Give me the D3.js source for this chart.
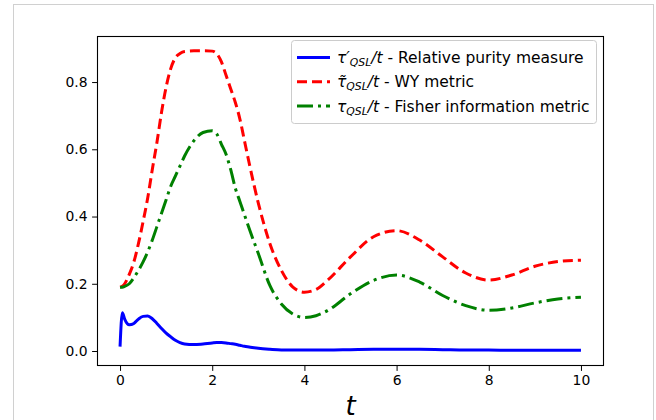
<!DOCTYPE html>
<html>
<head>
<meta charset="utf-8">
<script src="https://cdn.jsdelivr.net/npm/d3@7"></script>
<style>
  body { margin: 0; background: #fff; }
  text { font-family: "DejaVu Sans", sans-serif; }
</style>
</head>
<body>
<script>
var width = 656
var height = 420

// data
var tValues = [0, 0.05, 0.1, 0.2, 0.3, 0.4, 0.5, 0.6, 0.7, 0.8, 0.9, 1.0, 1.1, 1.2, 1.3, 1.4, 1.6, 1.8, 2.0,
  2.1, 2.2, 2.3, 2.4, 2.5, 2.6, 2.7, 2.8, 3.0, 3.25, 3.5, 3.75, 4.0, 4.25, 4.5, 5.0, 5.5, 6.0,
  6.5, 7.0, 7.5, 8.0, 8.5, 9.0, 9.5, 10.0]

var purity = [0.013, 0.114, 0.095, 0.078, 0.082, 0.095, 0.103, 0.104, 0.096, 0.082, 0.067, 0.053, 0.042, 0.032, 0.025, 0.021, 0.019, 0.021, 0.024,
  0.025, 0.025, 0.024, 0.022, 0.020, 0.017, 0.014, 0.012, 0.008, 0.005, 0.003, 0.003, 0.003, 0.003, 0.003, 0.004, 0.005, 0.005,
  0.005, 0.004, 0.003, 0.003, 0.002, 0.002, 0.002, 0.002]

var wyMetric = [0.19, 0.193, 0.2, 0.228, 0.265, 0.32, 0.385, 0.455, 0.54, 0.62, 0.71, 0.785, 0.84, 0.872, 0.885, 0.891, 0.893, 0.893, 0.892,
  0.884, 0.86, 0.82, 0.78, 0.74, 0.69, 0.625, 0.56, 0.44, 0.32, 0.24, 0.19, 0.175, 0.183, 0.21, 0.28, 0.34, 0.358,
  0.33, 0.28, 0.232, 0.211, 0.226, 0.252, 0.266, 0.27]

var fisher = [0.19, 0.19, 0.192, 0.2, 0.218, 0.24, 0.265, 0.295, 0.33, 0.37, 0.41, 0.45, 0.49, 0.52, 0.55, 0.58, 0.625, 0.65, 0.655,
  0.645, 0.615, 0.585, 0.54, 0.485, 0.445, 0.405, 0.365, 0.29, 0.195, 0.14, 0.11, 0.1, 0.105, 0.12, 0.17, 0.21, 0.226,
  0.205, 0.165, 0.135, 0.121, 0.128, 0.143, 0.155, 0.16]

var xTicks = [0, 2, 4, 6, 8, 10]
var yTicks = [0.0, 0.2, 0.4, 0.6, 0.8]

var svg = d3.select("body")
            .append("svg")
            .attr("width", width)
            .attr("height", height)

// light figure frame
svg.append("rect")
  .attr("x", 13.5).attr("y", 4.5)
  .attr("width", 640).attr("height", 500)
  .attr("fill", "none")
  .attr("stroke", "#d0d0d0")

var box = {left: 97, right: 604, top: 36, bottom: 366}

var x = d3.scaleLinear().domain([-0.5, 10.5]).range([box.left, box.right])
var y = d3.scaleLinear().domain([-0.0446, 0.937]).range([box.bottom, box.top])

svg.append("clipPath").attr("id", "clip")
  .append("rect")
  .attr("x", box.left).attr("y", box.top)
  .attr("width", box.right - box.left).attr("height", box.bottom - box.top)

var series = [
  {values: purity, color: "#0000ff", dash: null},
  {values: wyMetric, color: "#ff0000", dash: "10,5"},
  {values: fisher, color: "#008000", dash: "16,5,3,5"}
]

var line = d3.line()
  .x(function(d){ return x(d[0]) })
  .y(function(d){ return y(d[1]) })
  .curve(d3.curveMonotoneX)

svg.append("g").attr("clip-path", "url(#clip)")
  .selectAll("path")
  .data(series)
  .enter()
  .append("path")
  .attr("d", function(s){
    return line(tValues.map(function(t, i){ return [t, s.values[i]] }))
  })
  .attr("fill", "none")
  .attr("stroke", function(s){ return s.color })
  .attr("stroke-width", 3)
  .attr("stroke-dasharray", function(s){ return s.dash })

// axes
svg.append("g")
  .attr("transform", "translate(0," + box.bottom + ")")
  .call(d3.axisBottom(x).tickValues(xTicks).tickFormat(d3.format("d")).tickSize(4.9).tickPadding(4.5))

svg.append("g")
  .attr("transform", "translate(" + box.left + ",0)")
  .call(d3.axisLeft(y).tickValues(yTicks).tickFormat(d3.format(".1f")).tickSize(4.9).tickPadding(4.5))

svg.selectAll(".domain").remove()
svg.selectAll(".tick line").attr("stroke", "#000").attr("stroke-width", 1)
svg.selectAll(".tick text")
  .attr("font-family", "DejaVu Sans")
  .attr("font-size", 13.9)
  .attr("fill", "#000")

svg.append("rect")
  .attr("x", box.left + 0.5).attr("y", box.top + 0.5)
  .attr("width", box.right - box.left - 1).attr("height", box.bottom - box.top - 1)
  .attr("fill", "none")
  .attr("stroke", "#000")
  .attr("stroke-width", 1.1)

// x label
svg.append("text")
  .attr("x", (box.left + box.right) / 2)
  .attr("y", 415)
  .attr("text-anchor", "middle")
  .attr("font-style", "italic")
  .attr("font-size", 26)
  .text("t")

// legend
var legend = svg.append("g")
legend.append("rect")
  .attr("x", 291.5).attr("y", 40.5)
  .attr("width", 305).attr("height", 83)
  .attr("rx", 3)
  .attr("fill", "#fff").attr("fill-opacity", 0.8)
  .attr("stroke", "#cccccc")

var legendRows = [
  {sym: "τ", prime: "′", tail: " - Relative purity measure"},
  {sym: "τ\u0303", prime: "", tail: " - WY metric"},
  {sym: "τ", prime: "", tail: " - Fisher information metric"}
]

legendRows.forEach(function(r, i){
  var cy = 57.5 + i * 24.3
  legend.append("line")
    .attr("x1", 297).attr("x2", 330)
    .attr("y1", cy).attr("y2", cy)
    .attr("stroke", series[i].color)
    .attr("stroke-width", 3)
    .attr("stroke-dasharray", series[i].dash)
  var txt = legend.append("text")
    .attr("x", 337).attr("y", cy + 5.5)
    .attr("font-size", 15.5)
  txt.append("tspan").attr("font-style", "italic").text(r.sym + r.prime)
  txt.append("tspan").attr("font-style", "italic").attr("font-size", 10.8).attr("dy", 3).text("QSL")
  txt.append("tspan").attr("font-style", "italic").attr("dy", -3).text("/t")
  txt.append("tspan").text(r.tail)
})
</script>
</body>
</html>
